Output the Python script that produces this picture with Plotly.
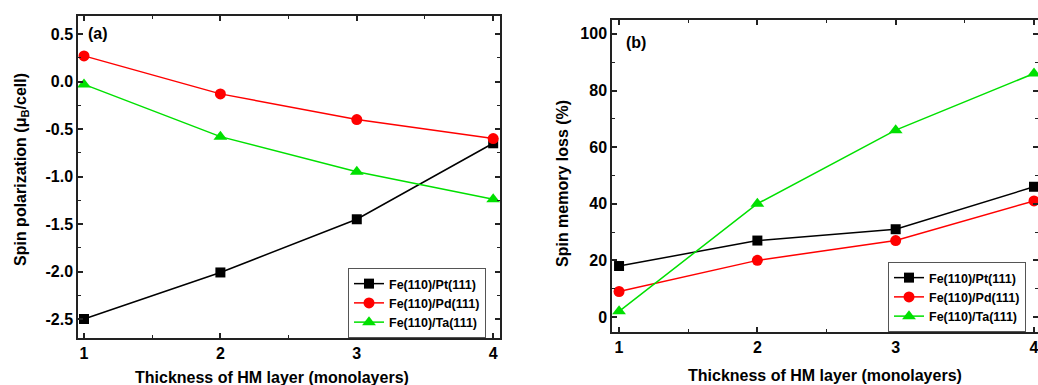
import plotly.graph_objects as go

# ---- data ----
thickness = [1, 2, 3, 4]
series_names = ["Fe(110)/Pt(111)", "Fe(110)/Pd(111)", "Fe(110)/Ta(111)"]

pol_pt = [-2.50, -2.01, -1.45, -0.65]
pol_pd = [0.27, -0.13, -0.40, -0.60]
pol_ta = [-0.03, -0.58, -0.95, -1.24]

sml_pt = [18, 27, 31, 46]
sml_pd = [9, 20, 27, 41]
sml_ta = [2, 40, 66, 86]

ya_tickvals = [0.5, 0.0, -0.5, -1.0, -1.5, -2.0, -2.5]
ya_ticktext = ["0.5", "0.0", "-0.5", "-1.0", "-1.5", "-2.0", "-2.5"]
yb_tickvals = [0, 20, 40, 60, 80, 100]
x_tickvals = [1, 2, 3, 4]

x_title = "Thickness of HM layer (monolayers)"
ya_title = "Spin polarization (μ<sub>B</sub>/cell)"
yb_title = "Spin memory loss (%)"

colors = ["#000000", "#ff0000", "#00e000"]
symbols = ["square", "circle", "triangle-up"]
sizes = [10, 11, 12]

FONT = "Liberation Sans"
W, H = 1038, 385

fig = go.Figure()

for name, vals, c, s, sz in zip(series_names, [pol_pt, pol_pd, pol_ta], colors, symbols, sizes):
    fig.add_trace(go.Scatter(x=thickness, y=vals, name="<b>%s</b>" % name, mode="lines+markers",
                             line=dict(color=c, width=1.5),
                             marker=dict(symbol=s, size=sz, color=c),
                             cliponaxis=False,
                             xaxis="x", yaxis="y", legend="legend"))

for name, vals, c, s, sz in zip(series_names, [sml_pt, sml_pd, sml_ta], colors, symbols, sizes):
    fig.add_trace(go.Scatter(x=thickness, y=vals, name="<b>%s</b>" % name, mode="lines+markers",
                             line=dict(color=c, width=1.5),
                             marker=dict(symbol=s, size=sz, color=c),
                             cliponaxis=False,
                             xaxis="x2", yaxis="y2", legend="legend2"))

axis_common = dict(showline=True, linecolor="#222", linewidth=1.5, mirror="ticks",
                   ticks="inside", ticklen=5, tickwidth=1.5, tickcolor="#222",
                   showgrid=False, zeroline=False, ticklabeloverflow="allow",
                   tickfont=dict(family=FONT, size=16, color="#000"),
                   automargin=False)

minor_common = dict(ticks="inside", ticklen=3, tickwidth=1.2, tickcolor="#222")

fig.update_layout(
    width=W, height=H,
    margin=dict(l=0, r=0, t=0, b=0),
    paper_bgcolor="white", plot_bgcolor="white",
    font=dict(family=FONT, color="#000"),
    xaxis=dict(domain=[78/W, 500/W], range=[0.956, 4.05], tickvals=x_tickvals,
               ticktext=["<b>%d</b>" % v for v in x_tickvals],
               minor=dict(dtick=0.5, tick0=1, **minor_common),
               anchor="y", **axis_common),
    yaxis=dict(domain=[1-338/H, 1-16/H], range=[-2.70, 0.69],
               tickvals=ya_tickvals, ticktext=["<b>%s</b>" % t for t in ya_ticktext],
               minor=dict(dtick=0.25, tick0=0, **minor_common),
               anchor="x", **axis_common),
    xaxis2=dict(domain=[612/W, 1.0], range=[0.949, 4.029], tickvals=x_tickvals,
                ticktext=["<b>%d</b>" % v for v in x_tickvals],
                minor=dict(dtick=0.5, tick0=1, **minor_common),
                anchor="y2", **axis_common),
    yaxis2=dict(domain=[1-332/H, 1-20/H], range=[-5.3, 104.9],
                tickvals=yb_tickvals, ticktext=["<b>%d</b>" % v for v in yb_tickvals],
                minor=dict(dtick=10, tick0=0, **minor_common),
                anchor="x2", **axis_common),
    legend=dict(x=348/W, y=1-268/H, xanchor="left", yanchor="top",
                bgcolor="white", bordercolor="#555", borderwidth=1,
                font=dict(family=FONT, size=12.5, color="#000"), tracegroupgap=0,
                itemwidth=30),
    legend2=dict(x=888/W, y=1-262/H, xanchor="left", yanchor="top",
                 bgcolor="white", bordercolor="#555", borderwidth=1,
                 font=dict(family=FONT, size=12.5, color="#000"), tracegroupgap=0,
                 itemwidth=30),
    showlegend=True,
)

def ann(text, x, y, angle=0, anchor="center", size=16):
    fig.add_annotation(text="<b>%s</b>" % text, xref="paper", yref="paper", x=x/W, y=1-y/H,
                       xanchor=anchor, yanchor="middle", showarrow=False, textangle=angle,
                       font=dict(family=FONT, size=size, color="#000"))

ann("(a)", 86, 33, anchor="left")
ann("(b)", 624, 42, anchor="left")
ann(x_title, 272, 377)
ann(x_title, 825, 375)
ann(ya_title, 22, 170, angle=-90)
ann(yb_title, 563, 184, angle=-90)

fig.write_html("out.html", config={"displayModeBar": False},
               post_script="document.body.style.margin='0';document.body.style.overflow='hidden';")
